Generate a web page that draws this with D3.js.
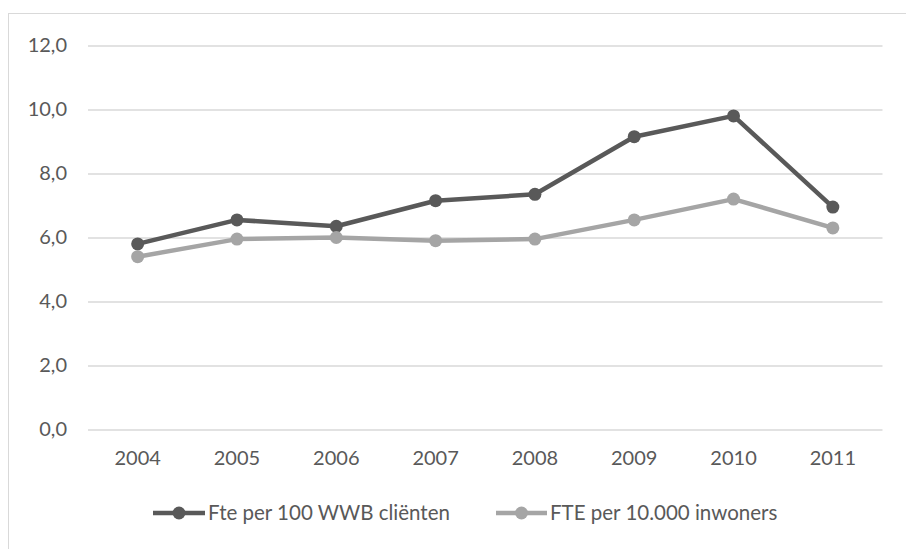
<!DOCTYPE html>
<html><head><meta charset="utf-8">
<script src="https://cdn.jsdelivr.net/npm/d3@7"></script>
<style>
html,body{margin:0;padding:0;background:#fff;}
svg{display:block;}
text{font-family:Lato,"Open Sans",sans-serif;fill:#595959;}
</style></head>
<body>
<script>
const years = ["2004","2005","2006","2007","2008","2009","2010","2011"];
const fteWwb = [5.8, 6.55, 6.35, 7.15, 7.35, 9.15, 9.8, 6.95];
const fteInw = [5.4, 5.95, 6.0, 5.9, 5.95, 6.55, 7.2, 6.3];
const yTicks = [0, 2, 4, 6, 8, 10, 12];
const seriesNames = ["Fte per 100 WWB cliënten", "FTE per 10.000 inwoners"];
const seriesColors = ["#595959", "#a5a5a5"];

(function(){
const W = 906, H = 549;
const svg = d3.select("body").append("svg").attr("width", W).attr("height", H);

// outer chart frame
svg.append("rect").attr("x", 8.5).attr("y", 13.5).attr("width", 920).attr("height", 600)
  .attr("fill", "none").attr("stroke", "#d9d9d9").attr("stroke-width", 1);

const mLeft = 88, mRight = 882.5, mTop = 45.5, mBottom = 429.5;
const x = d3.scaleBand().domain(years).range([mLeft, mRight]);
const y = d3.scaleLinear().domain([0, 12]).range([mBottom, mTop]);

// gridlines + y axis
const yAxis = d3.axisLeft(y).tickValues(yTicks).tickSize(-(mRight - mLeft)).tickPadding(21)
  .tickFormat(d => d3.format(".1f")(d).replace(".", ","));
const gy = svg.append("g").attr("transform", `translate(${mLeft},0)`).call(yAxis);
gy.select(".domain").remove();
gy.selectAll(".tick line").attr("stroke", "#d9d9d9").attr("stroke-width", 1.5);
gy.selectAll(".tick text").attr("font-size", 20).attr("fill", "#595959")
  .attr("font-family", "Lato, 'Open Sans', sans-serif");

// x axis
const xAxis = d3.axisBottom(x).tickSize(0).tickPadding(21);
const gx = svg.append("g").attr("transform", `translate(0,${mBottom})`).call(xAxis);
gx.select(".domain").remove();
gx.selectAll(".tick text").attr("font-size", 20).attr("fill", "#595959")
  .attr("font-family", "Lato, 'Open Sans', sans-serif");

const cx = d => x(d) + x.bandwidth() / 2;
const line = d3.line().x((d, i) => cx(years[i])).y(d => y(d));

[fteWwb, fteInw].forEach((vals, si) => {
  const c = seriesColors[si];
  svg.append("path").datum(vals).attr("d", line).attr("fill", "none")
    .attr("stroke", c).attr("stroke-width", 4.5).attr("stroke-linejoin", "round");
  svg.append("g").selectAll("circle").data(vals).join("circle")
    .attr("cx", (d, i) => cx(years[i])).attr("cy", d => y(d)).attr("r", 6.5).attr("fill", c);
});

// legend
const legY = 513;
const legItems = [{x0: 153, x1: 205, tx: 208}, {x0: 496, x1: 547, tx: 550}];
legItems.forEach((it, i) => {
  const g = svg.append("g");
  g.append("line").attr("x1", it.x0).attr("x2", it.x1).attr("y1", legY).attr("y2", legY)
    .attr("stroke", seriesColors[i]).attr("stroke-width", 4.5);
  g.append("circle").attr("cx", (it.x0 + it.x1) / 2).attr("cy", legY).attr("r", 6.5).attr("fill", seriesColors[i]);
  g.append("text").attr("x", it.tx).attr("y", legY).attr("dy", "0.35em")
    .attr("font-size", 20.5).text(seriesNames[i]);
});
})();
</script>
</body></html>
